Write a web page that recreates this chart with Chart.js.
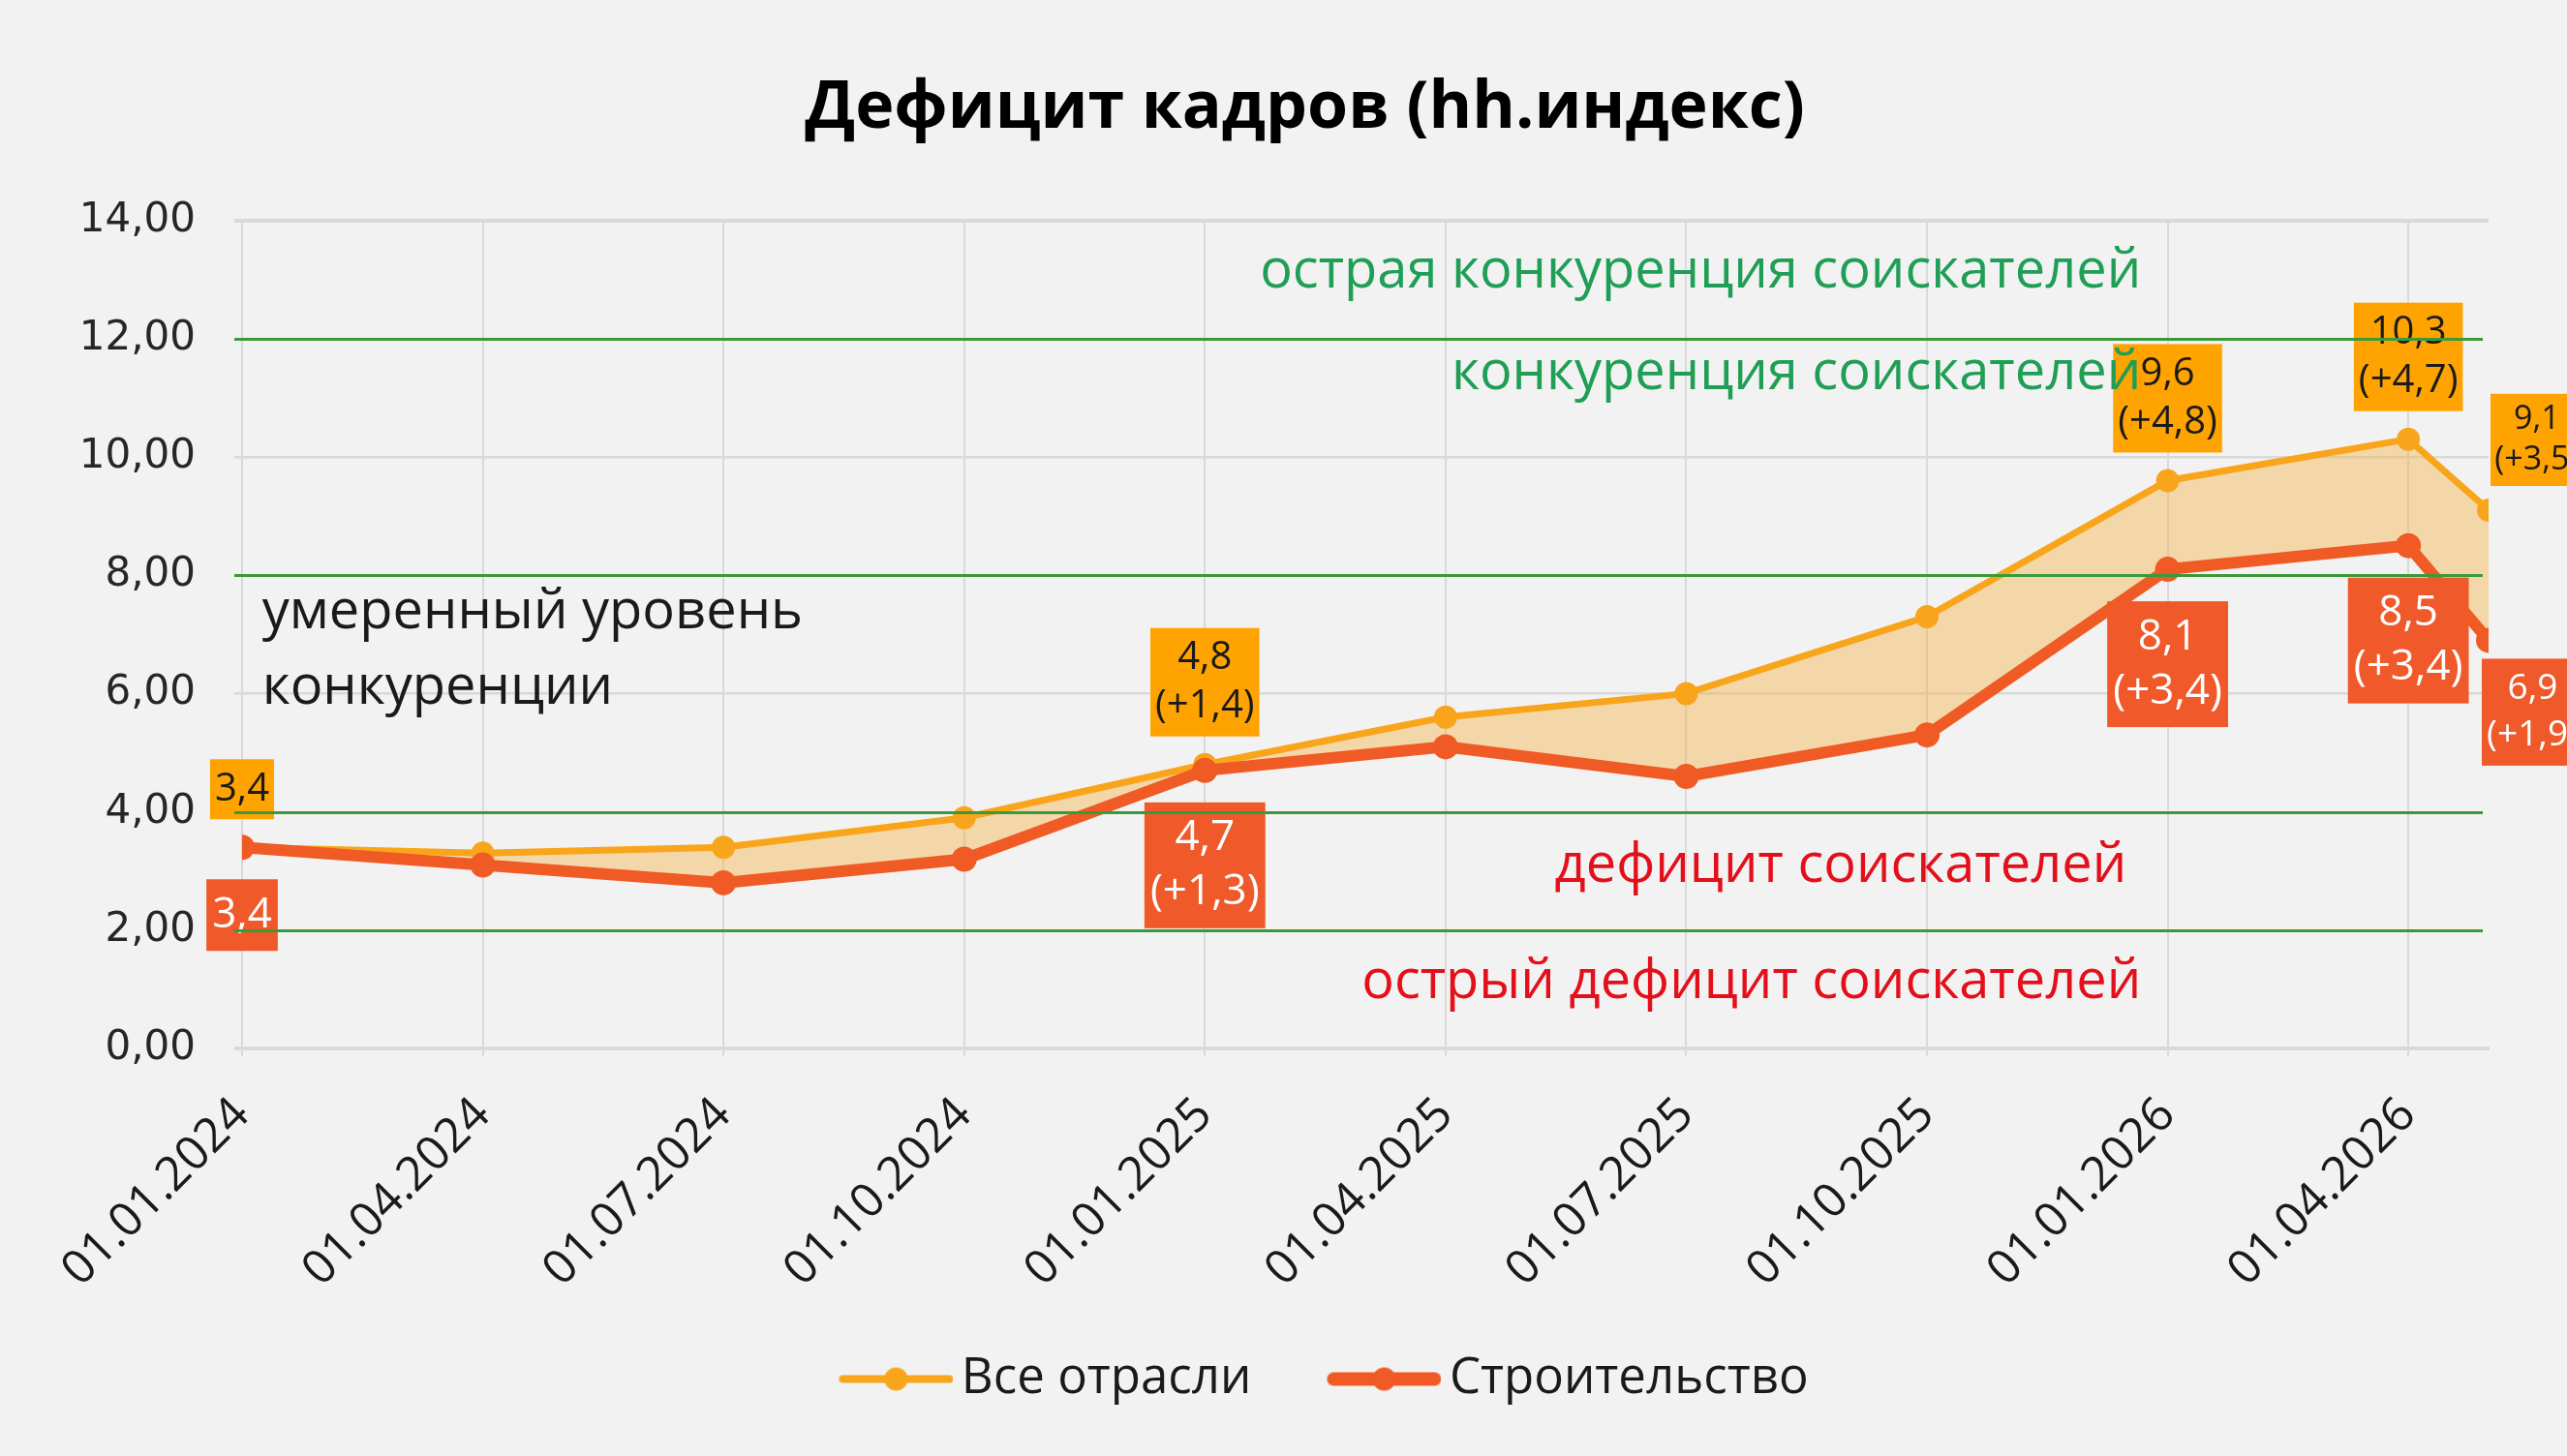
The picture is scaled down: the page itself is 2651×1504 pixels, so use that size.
<!DOCTYPE html>
<html>
<head>
<meta charset="utf-8">
<script src="https://cdn.jsdelivr.net/npm/chart.js@4.4.1/dist/chart.umd.min.js"></script>
<style>
    html, body { margin: 0; padding: 0; background: #f2f2f2; }
    #wrap { width: 2651px; height: 1504px; }
</style>
</head>
<body>
<div id="wrap"><canvas id="myChart"></canvas></div>
<script>
// dates of the measurements (last one is a month after 01.04.2026)
const dates = ['01.01.2024', '01.04.2024', '01.07.2024', '01.10.2024', '01.01.2025', '01.04.2025',
    '01.07.2025', '01.10.2025', '01.01.2026', '01.04.2026', '01.05.2026'];
const allSectors = [3.4, 3.3, 3.4, 3.9, 4.8, 5.6, 6.0, 7.3, 9.6, 10.3, 9.1];
const construction = [3.4, 3.1, 2.8, 3.2, 4.7, 5.1, 4.6, 5.3, 8.1, 8.5, 6.9];
const allSectorsLabels = ['3,4', '', '', '', '4,8\n(+1,4)', '', '', '', '9,6\n(+4,8)', '10,3\n(+4,7)', '9,1\n(+3,5)'];
const constructionLabels = ['3,4', '', '', '', '4,7\n(+1,3)', '', '', '', '8,1\n(+3,4)', '8,5\n(+3,4)', '6,9\n(+1,9)'];
const tickLabels = dates.slice(0, 10);
const yTicks = [0, 2, 4, 6, 8, 10, 12, 14];
const thresholds = [2, 4, 8, 12];
const zoneTexts = ['острая конкуренция соискателей', 'конкуренция соискателей', 'умеренный уровень',
    'конкуренции', 'дефицит соискателей', 'острый дефицит соискателей'];

const ORANGE = '#f8a51b';
const RED = '#f05a24';
const GREEN = '#3a9a3a';

function monthIndex(d) {
    const [, m, y] = d.split('.').map(Number);
    return (y - 2024) * 12 + (m - 1);
}
const xs = dates.map(monthIndex);
const tickValues = xs.slice(0, 10);

// where the zone captions sit (data units) and how they look
const zoneNotes = [
    { x: 23.67, y: 13.12, align: 'right', color: '#1f9e55' },
    { x: 23.67, y: 11.40, align: 'right', color: '#1f9e55' },
    { x: 0.25, y: 7.36, align: 'left', color: '#1a1a1a' },
    { x: 0.25, y: 6.09, align: 'left', color: '#1a1a1a' },
    { x: 23.49, y: 3.07, align: 'right', color: '#e3101b' },
    { x: 23.67, y: 1.11, align: 'right', color: '#e3101b' },
];

const tagStyles = [
    { texts: allSectorsLabels, bg: '#ffa300', fg: '#1a1a1a', size: 40, lineH: 50, padX: 5, padY: 6, gap: 29, side: -1 },
    { texts: constructionLabels, bg: '#f0592a', fg: '#ffffff', size: 44, lineH: 56, padX: 6, padY: 9, gap: 33, side: 1 },
];

function drawTag(ctx, text, px, py, st, last) {
    const k = last ? 0.85 : 1;
    const lines = text.split('\n');
    ctx.font = `${Math.round(st.size * k)}px "Open Sans"`;
    const tw = Math.max(...lines.map(l => ctx.measureText(l).width));
    const w = tw + 2 * st.padX * k;
    const lh = st.lineH * k;
    const h = lines.length * lh + 2 * st.padY * k;
    let x = px - w / 2;
    if (last) x = st.side < 0 ? px + 2 : px - 7;
    const gap = last ? (st.side < 0 ? 25 : 19) : st.gap;
    const y = st.side < 0 ? py - gap - h : py + gap;
    ctx.fillStyle = st.bg;
    ctx.fillRect(x, y, w, h);
    ctx.fillStyle = st.fg;
    ctx.textAlign = 'center';
    ctx.textBaseline = 'middle';
    lines.forEach((l, i) => ctx.fillText(l, x + w / 2, y + st.padY * k + lh * (i + 0.5)));
}

const overlayPlugin = {
    id: 'overlay',
    beforeDraw(chart) {
        const ctx = chart.ctx;
        ctx.save();
        ctx.fillStyle = '#f2f2f2';
        ctx.fillRect(0, 0, chart.width, chart.height);
        ctx.restore();
    },
    afterDatasetsDraw(chart) {
        const ctx = chart.ctx;
        const xScale = chart.scales.x;
        const yScale = chart.scales.y;
        const area = chart.chartArea;
        ctx.save();
        tagStyles.forEach((st, di) => {
            const meta = chart.getDatasetMeta(di);
            meta.data.forEach((pt, i) => {
                if (!st.texts[i]) return;
                drawTag(ctx, st.texts[i], pt.x, pt.y, st, i === meta.data.length - 1);
            });
        });
        // threshold lines
        ctx.strokeStyle = GREEN;
        ctx.lineWidth = 3;
        thresholds.forEach(v => {
            const y = Math.round(yScale.getPixelForValue(v)) + 0.5;
            ctx.beginPath();
            ctx.moveTo(area.left - 8, y);
            ctx.lineTo(area.right - 6, y);
            ctx.stroke();
        });
        // zone captions
        ctx.font = '56px "Open Sans"';
        ctx.textBaseline = 'middle';
        zoneTexts.forEach((t, i) => {
            const n = zoneNotes[i];
            ctx.fillStyle = n.color;
            ctx.textAlign = n.align;
            ctx.fillText(t, xScale.getPixelForValue(n.x), yScale.getPixelForValue(n.y));
        });
        ctx.restore();
    }
};

// legend swatch: line with a dot, drawn at the right end of a wider transparent canvas
function legendMarker(color, lineW, radius) {
    const c = document.createElement('canvas');
    c.width = 174;
    c.height = 40;
    const g = c.getContext('2d');
    g.strokeStyle = color;
    g.lineWidth = lineW;
    g.lineCap = 'round';
    g.beginPath();
    g.moveTo(56 + lineW / 2, 20);
    g.lineTo(174 - lineW / 2, 20);
    g.stroke();
    g.fillStyle = color;
    g.beginPath();
    g.arc(115, 20, radius, 0, Math.PI * 2);
    g.fill();
    return c;
}

const datasets = [
    {
        label: 'Все отрасли',
        data: xs.map((x, i) => ({ x, y: allSectors[i] })),
        borderColor: ORANGE,
        backgroundColor: 'rgba(246,176,60,0.40)',
        borderWidth: 7,
        pointRadius: 12,
        pointBackgroundColor: ORANGE,
        pointBorderWidth: 0,
        fill: '+1',
        order: 2,
        legendStyle: legendMarker(ORANGE, 8, 12),
    },
    {
        label: 'Строительство',
        data: xs.map((x, i) => ({ x, y: construction[i] })),
        borderColor: RED,
        backgroundColor: RED,
        borderWidth: 12,
        pointRadius: 13,
        pointBackgroundColor: RED,
        pointBorderWidth: 0,
        fill: false,
        order: 1,
        legendStyle: legendMarker(RED, 14, 12),
    },
];

const ctx = document.getElementById('myChart');
new Chart(ctx, {
    type: 'line',
    data: { datasets },
    plugins: [overlayPlugin],
    options: {
        responsive: true,
        maintainAspectRatio: false,
        animation: false,
        layout: { padding: { left: 44, right: 0, top: 0, bottom: 44 } },
        elements: { line: { tension: 0 } },
        plugins: {
            tooltip: { enabled: false },
            title: {
                display: true,
                text: 'Дефицит кадров (hh.индекс)',
                color: '#000',
                font: { family: '"Open Sans"', size: 68, weight: 'bold', lineHeight: 1.2 },
                padding: { top: 72, bottom: 74 },
            },
            legend: {
                position: 'bottom',
                labels: {
                    color: '#1a1a1a',
                    font: { family: '"Open Sans"', size: 51 },
                    usePointStyle: true,
                    pointStyleWidth: 140,
                    padding: 39,
                    sort: (a, b) => a.datasetIndex - b.datasetIndex,
                    generateLabels(chart) {
                        const items = Chart.defaults.plugins.legend.labels.generateLabels(chart);
                        items.forEach(it => { it.pointStyle = chart.data.datasets[it.datasetIndex].legendStyle; });
                        return items;
                    },
                },
            },
        },
        scales: {
            x: {
                type: 'linear',
                min: xs[0],
                max: xs[xs.length - 1],
                afterBuildTicks: scale => { scale.ticks = tickValues.map(v => ({ value: v })); },
                afterFit: scale => { scale.height = 277; },
                ticks: {
                    autoSkip: false,
                    minRotation: 45,
                    maxRotation: 45,
                    padding: 32,
                    color: '#1a1a1a',
                    font: { family: '"Open Sans"', size: 49 },
                    callback: (v, i) => tickLabels[i],
                },
                grid: { color: '#d9d9d9', lineWidth: 2, tickLength: 8 },
                border: { color: '#d9d9d9', width: 4 },
            },
            y: {
                min: 0,
                max: 14,
                afterBuildTicks: scale => { scale.ticks = yTicks.map(v => ({ value: v })); },
                afterFit: scale => { scale.width = 206; },
                ticks: {
                    padding: 40,
                    color: '#262626',
                    font: { family: '"DejaVu Sans"', size: 42 },
                    callback: v => v.toFixed(2).replace('.', ','),
                },
                grid: {
                    color: c => thresholds.includes(c.tick.value) ? 'rgba(0,0,0,0)' : '#d9d9d9',
                    lineWidth: c => (c.tick.value === 0 || c.tick.value === 14) ? 4 : 2.5,
                    tickLength: 8,
                },
                border: { display: false },
            },
            // empty right-hand axis: only reserves the margin right of the plot
            yRight: {
                position: 'right',
                min: 0,
                max: 14,
                afterFit: scale => { scale.width = 81; },
                ticks: { display: false },
                grid: { display: false, drawOnChartArea: false },
                border: { display: false },
            },
        },
    },
});
</script>
</body>
</html>
